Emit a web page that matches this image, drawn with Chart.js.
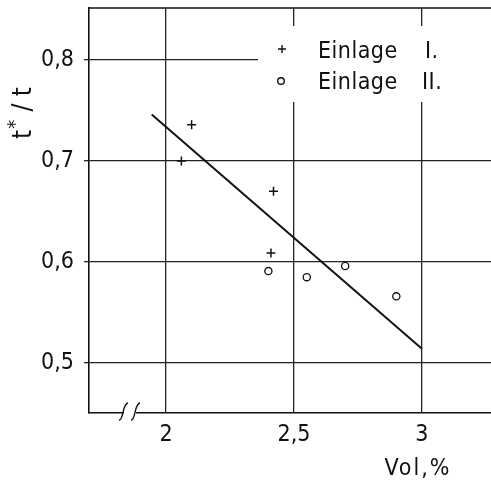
<!DOCTYPE html>
<html>
<head>
<meta charset="utf-8">
<script src="https://cdn.jsdelivr.net/npm/chart.js@4/dist/chart.umd.min.js"></script>
<style>
  html, body { margin: 0; padding: 0; background: #fff; }
  canvas { display: block; }
</style>
</head>
<body>
<canvas id="chart" width="491" height="486"></canvas>
<script>
// Axis ticks
const xTicks = [2, 2.5, 3];
const yTicks = [0.5, 0.6, 0.7, 0.8];

// Einlage I (crosses)
const einlageIVol   = [2.06, 2.10, 2.42, 2.41];
const einlageIRatio = [0.700, 0.736, 0.670, 0.609];

// Einlage II (open circles)
const einlageIIVol   = [2.40, 2.55, 2.70, 2.90];
const einlageIIRatio = [0.591, 0.585, 0.596, 0.566];

// Fitted trend line
const trendVol   = [1.944, 3.0];
const trendRatio = [0.746, 0.514];

const legendLabels = ['Einlage', 'Einlage'];
const legendNumerals = ['I.', 'II.'];

const FONT = '"Liberation Sans Narrow", "DejaVu Sans Condensed", "Liberation Sans", sans-serif';
const INK = '#111';

const pts = (xs, ys) => xs.map((x, i) => ({ x, y: ys[i] }));
const decimalComma = v => String(v).replace('.', ',');

// keep the plot area exactly where the axes put it
const noLabelPadding = s => {
  s.paddingTop = 0; s.paddingBottom = 0; s.paddingLeft = 0; s.paddingRight = 0;
};

const decorations = {
  id: 'decorations',
  beforeDatasetsDraw(chart) {
    const { ctx, chartArea: a } = chart;
    // white box behind the legend
    ctx.save();
    ctx.fillStyle = '#fff';
    ctx.fillRect(258, 26, a.right - 258, 76);
    ctx.restore();
  },
  afterDraw(chart) {
    const { ctx, chartArea: a, scales } = chart;
    ctx.save();
    ctx.strokeStyle = INK;
    ctx.fillStyle = INK;

    // top frame line
    ctx.lineWidth = 1.6;
    ctx.beginPath();
    ctx.moveTo(a.left, a.top);
    ctx.lineTo(a.right, a.top);
    ctx.stroke();

    // axis break on the x axis
    const yb = a.bottom;
    ctx.fillStyle = '#fff';
    ctx.fillRect(124, yb - 2, 12, 4);
    ctx.lineWidth = 1.4;
    [119, 131].forEach(x0 => {
      ctx.beginPath();
      ctx.moveTo(x0, yb + 7);
      ctx.bezierCurveTo(x0 + 5, yb + 7, x0 + 3, yb - 9, x0 + 9, yb - 10);
      ctx.stroke();
    });

    // legend
    ctx.fillStyle = INK;
    ctx.lineWidth = 1.4;
    const lx = 282, rows = [49, 80];
    ctx.beginPath();
    ctx.moveTo(lx - 4, rows[0]); ctx.lineTo(lx + 4, rows[0]);
    ctx.moveTo(lx, rows[0] - 4); ctx.lineTo(lx, rows[0] + 4);
    ctx.stroke();
    ctx.beginPath();
    ctx.arc(lx - 1, rows[1] + 1, 3.3, 0, Math.PI * 2);
    ctx.stroke();

    ctx.font = '23px ' + FONT;
    ctx.textBaseline = 'middle';
    ctx.textAlign = 'left';
    ctx.letterSpacing = '0.5px';
    legendLabels.forEach((t, i) => ctx.fillText(t, 318, rows[i] + 3));
    legendNumerals.forEach((t, i) => ctx.fillText(t, i === 0 ? 425 : 422, rows[i] + 3));

    // x axis title
    ctx.letterSpacing = '2px';
    ctx.textAlign = 'center';
    ctx.font = '23px ' + FONT;
    ctx.fillText('Vol,%', scales.x.getPixelForValue(3) - 4, 469);

    // y axis title: t* / t
    ctx.letterSpacing = '0px';
    ctx.translate(22, 113);
    ctx.rotate(-Math.PI / 2);
    ctx.textAlign = 'left';
    const big = '26px ' + FONT, small = '20px ' + FONT;
    ctx.font = big; const wT = ctx.measureText('t').width;
    ctx.font = small; const wS = ctx.measureText('*').width;
    ctx.font = big; const wR = ctx.measureText(' / t').width;
    let x = -(wT + wS + wR + 2) / 2;
    ctx.font = big; ctx.fillText('t', x, 2); x += wT + 1;
    ctx.font = small; ctx.fillText('*', x, -6); x += wS + 1;
    ctx.font = big; ctx.fillText(' / t', x, 2);
    ctx.restore();
  }
};

new Chart(document.getElementById('chart'), {
  type: 'scatter',
  data: {
    datasets: [
      {
        label: 'Einlage I.',
        data: pts(einlageIVol, einlageIRatio),
        pointStyle: 'cross',
        pointRadius: 4.5,
        borderColor: INK,
        borderWidth: 1.5
      },
      {
        label: 'Einlage II.',
        data: pts(einlageIIVol, einlageIIRatio),
        pointStyle: 'circle',
        pointRadius: 3.6,
        backgroundColor: '#fff',
        borderColor: INK,
        borderWidth: 1.3
      },
      {
        label: 'trend',
        data: pts(trendVol, trendRatio),
        showLine: true,
        pointRadius: 0,
        borderColor: INK,
        borderWidth: 2
      }
    ]
  },
  options: {
    responsive: false,
    animation: false,
    devicePixelRatio: 1,
    layout: { autoPadding: false, padding: { top: 8, right: 0, left: 0, bottom: 0 } },
    plugins: { legend: { display: false }, tooltip: { enabled: false } },
    scales: {
      x: {
        type: 'linear',
        min: 1.699,
        max: 3.27,
        afterBuildTicks: s => { s.ticks = xTicks.map(v => ({ value: v })); },
        afterFit: s => { s.height = 73; noLabelPadding(s); },
        ticks: {
          callback: decimalComma,
          font: { family: FONT, size: 23 },
          color: INK,
          padding: 8,
          maxRotation: 0
        },
        grid: { color: '#222', lineWidth: 1.3, drawTicks: false },
        border: { display: true, color: INK, width: 1.6 }
      },
      y: {
        type: 'linear',
        min: 0.4505,
        max: 0.8515,
        afterBuildTicks: s => { s.ticks = yTicks.map(v => ({ value: v })); },
        afterFit: s => { s.width = 89; noLabelPadding(s); },
        ticks: {
          callback: decimalComma,
          font: { family: FONT, size: 23 },
          color: INK,
          padding: 10
        },
        grid: { color: '#222', lineWidth: 1.3, drawTicks: true, tickLength: 5 },
        border: { display: true, color: INK, width: 1.6 }
      }
    }
  },
  plugins: [decorations]
});
</script>
</body>
</html>
